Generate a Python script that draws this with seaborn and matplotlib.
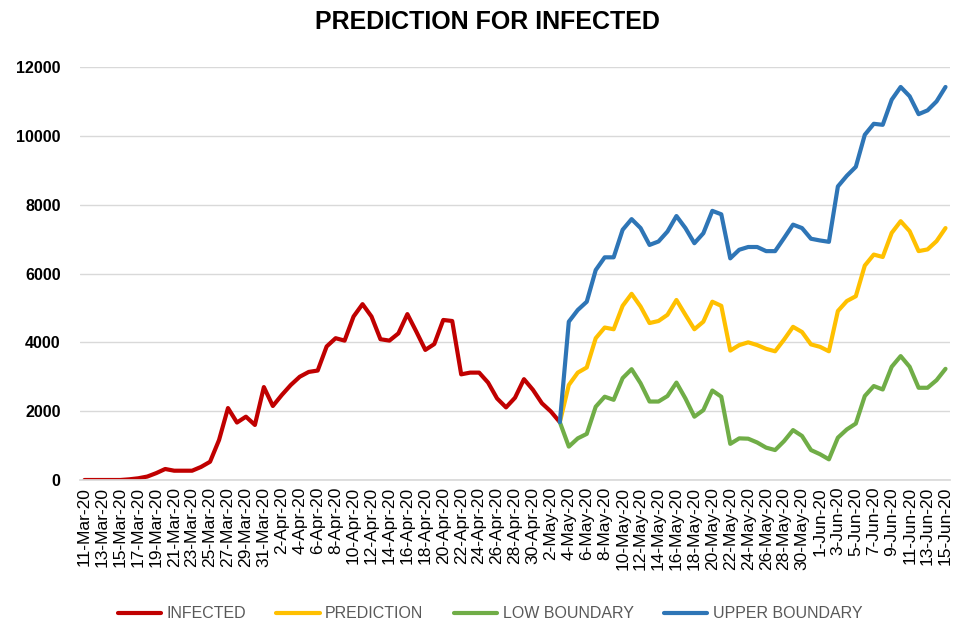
import matplotlib
matplotlib.use("Agg")
import matplotlib.pyplot as plt
import numpy as np
import pandas as pd
import seaborn as sns

sns.set_theme(style="white")
plt.rcParams["font.family"] = ["Liberation Sans", "DejaVu Sans"]

# dates 11-Mar-20 .. 15-Jun-20, one value per day
dates = pd.date_range("2020-03-11", "2020-06-15", freq="D")
date_labels = [f"{d.day}-{d.strftime('%b-%y')}" for d in dates]

# observed cases, 11-Mar .. 3-May
infected = [0, 0, 0, 0, 0, 20, 50, 100, 200, 320,
            270, 270, 270, 380, 530, 1160, 2090, 1670, 1840, 1600,
            2700, 2150, 2470, 2760, 3000, 3140, 3180, 3880, 4120, 4050,
            4750, 5110, 4750, 4090, 4050, 4260, 4820, 4310, 3780, 3950,
            4650, 4620, 3070, 3120, 3120, 2830, 2370, 2110, 2390, 2930,
            2620, 2230, 1990, 1680]

# forecast, 3-May .. 15-Jun
prediction = [1680, 2760, 3120, 3270, 4120, 4430, 4380, 5060, 5410, 5040,
              4560, 4620, 4800, 5230, 4800, 4380, 4600, 5180, 5060, 3760,
              3920, 4000, 3920, 3810, 3740, 4080, 4450, 4300, 3940, 3870,
              3740, 4910, 5200, 5340, 6230, 6550, 6480, 7180, 7520, 7230,
              6650, 6700, 6940, 7320]
low_boundary = [1680, 970, 1210, 1340, 2130, 2420, 2330, 2960, 3220, 2810,
                2280, 2280, 2440, 2830, 2370, 1840, 2030, 2600, 2420, 1050,
                1210, 1200, 1090, 940, 870, 1130, 1450, 1280, 870, 750,
                600, 1230, 1470, 1640, 2440, 2730, 2630, 3290, 3600, 3290,
                2680, 2680, 2900, 3230]
upper_boundary = [1680, 4600, 4940, 5180, 6100, 6470, 6470, 7270, 7580, 7320,
                  6830, 6930, 7220, 7670, 7320, 6880, 7170, 7820, 7720, 6440,
                  6690, 6770, 6770, 6650, 6650, 7030, 7420, 7320, 7010, 6960,
                  6920, 8530, 8840, 9100, 10030, 10350, 10320, 11050, 11420, 11150,
                  10630, 10740, 11000, 11420]

series = [
    ("INFECTED", infected, "#C00000"),
    ("PREDICTION", prediction, "#FFC000"),
    ("LOW BOUNDARY", low_boundary, "#70AD47"),
    ("UPPER BOUNDARY", upper_boundary, "#2E75B6"),
]

fig = plt.figure(figsize=(9.55, 6.42), dpi=100)
ax = fig.add_axes([80 / 955, 1 - 480 / 642, 870 / 955, 413 / 642])

n_total = len(dates)
for name, vals, color in series:
    start = 0 if name == "INFECTED" else len(infected) - 1
    x = np.arange(start, start + len(vals))
    sns.lineplot(x=x, y=vals, ax=ax, color=color, linewidth=3.0, label=name,
                 solid_joinstyle="round", solid_capstyle="round")

ax.set_xlim(-0.5, n_total - 0.5)
ax.set_ylim(0, 12000)
ax.set_yticks(range(0, 12001, 2000))
ax.set_yticklabels([str(v) for v in range(0, 12001, 2000)],
                   fontsize=11.5, fontweight="bold", color="#000000")
ax.yaxis.grid(True, color="#D9D9D9", linewidth=1)
ax.tick_params(axis="y", length=0, pad=14)

ax.set_xticks(range(0, n_total, 2))
ax.set_xticklabels(date_labels[::2], rotation=90, fontsize=12.5, color="#000000")
ax.set_xticks(np.arange(1.5, n_total, 2), minor=True)
ax.tick_params(axis="x", which="major", length=0, pad=5)
ax.tick_params(axis="x", which="minor", length=5, color="#D9D9D9", width=1)

for side in ["top", "right", "left"]:
    ax.spines[side].set_visible(False)
ax.spines["bottom"].set_color("#D9D9D9")
ax.set_xlabel("")
ax.set_ylabel("")

ax.get_legend().remove()
handles, labels = ax.get_legend_handles_labels()
fig.legend(handles, labels, loc="center", bbox_to_anchor=(490 / 955, 1 - 614 / 642),
           ncol=4, frameon=False, fontsize=11.5, handlelength=2.7, handletextpad=0.35,
           columnspacing=1.9, labelcolor="#595959")

fig.text(487 / 955, 1 - 22 / 642, "PREDICTION FOR INFECTED", ha="center", va="center",
         fontsize=18, fontweight="bold", color="#000000")

fig.savefig("out.png", dpi=100)
